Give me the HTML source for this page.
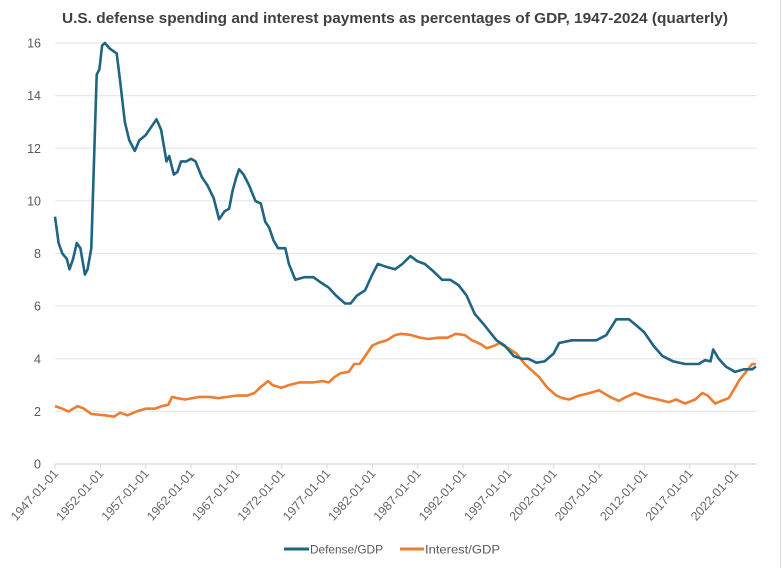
<!DOCTYPE html>
<html><head><meta charset="utf-8"><style>
html,body{margin:0;padding:0;background:#fff;}
svg{display:block;font-family:"Liberation Sans",sans-serif;}
</style></head><body>
<svg id="chart" width="782" height="568" viewBox="0 0 782 568">
<rect x="0" y="0" width="782" height="568" fill="#ffffff"/>
<line x1="780.5" y1="0" x2="780.5" y2="568" stroke="#d9d9d9" stroke-width="1"/>
<text x="395" y="23" text-anchor="middle" font-size="14.5" font-weight="bold" fill="#404040" textLength="666" lengthAdjust="spacingAndGlyphs">U.S. defense spending and interest payments as percentages of GDP, 1947-2024 (quarterly)</text>
<g id="grid"></g>
<g id="yticks"></g>
<g id="xaxis"></g>
<g id="series"></g>
<g>
<g>
<line x1="284" y1="549" x2="309" y2="549" stroke="#1f6483" stroke-width="3"/>
<text x="310" y="553.5" font-size="12" fill="#595959" textLength="73" lengthAdjust="spacingAndGlyphs">Defense/GDP</text>
</g>
<g>
<line x1="400" y1="549" x2="424" y2="549" stroke="#ed7d31" stroke-width="3"/>
<text x="425" y="553.5" font-size="12" fill="#595959" textLength="75" lengthAdjust="spacingAndGlyphs">Interest/GDP</text>
</g>
</g>
</svg>
<script>
const yTicks = [0,2,4,6,8,10,12,14,16];
const xTickYears = [1947,1952,1957,1962,1967,1972,1977,1982,1987,1992,1997,2002,2007,2012,2017,2022];
const defenseYears = [1947,1947.4,1947.8,1948.3,1948.6,1949.0,1949.4,1949.8,1950.3,1950.6,1951.0,1951.3,1951.6,1951.9,1952.2,1952.5,1953.0,1953.8,1954.2,1954.7,1955.2,1955.8,1956.3,1957.0,1957.6,1958.2,1958.7,1959.3,1959.6,1960.1,1960.5,1960.9,1961.5,1962.0,1962.5,1963.2,1963.8,1964.5,1965.1,1965.7,1966.2,1966.6,1967.0,1967.3,1967.8,1968.4,1969.1,1969.7,1970.2,1970.6,1971.1,1971.6,1972.4,1972.8,1973.5,1974.5,1975.5,1976.3,1977.2,1978.0,1979.0,1979.6,1980.3,1981.2,1982.0,1982.6,1983.5,1984.5,1985.3,1986.2,1987.0,1987.8,1988.8,1989.7,1990.6,1991.5,1992.4,1993.3,1994.3,1995.0,1995.7,1996.6,1997.6,1998.5,1999.2,2000.1,2001.0,2002.0,2002.6,2004.0,2005.5,2006.7,2007.8,2008.9,2010.3,2011.0,2012.0,2013.0,2014.0,2015.2,2016.5,2017.3,2018.0,2018.7,2019.3,2019.6,2020.2,2021.0,2022.0,2023.0,2023.9,2024.3];
const defenseValues = [9.4,8.4,8.0,7.8,7.4,7.8,8.4,8.2,7.2,7.4,8.2,11.5,14.8,15.0,15.9,16.0,15.8,15.6,14.5,13.0,12.3,11.9,12.3,12.5,12.8,13.1,12.7,11.5,11.7,11.0,11.1,11.5,11.5,11.6,11.5,10.9,10.6,10.1,9.3,9.6,9.7,10.4,10.9,11.2,11.0,10.6,10.0,9.9,9.2,9.0,8.5,8.2,8.2,7.6,7.0,7.1,7.1,6.9,6.7,6.4,6.1,6.1,6.4,6.6,7.2,7.6,7.5,7.4,7.6,7.9,7.7,7.6,7.3,7.0,7.0,6.8,6.4,5.7,5.3,5.0,4.7,4.5,4.1,4.0,4.0,3.85,3.9,4.2,4.6,4.7,4.7,4.7,4.9,5.5,5.5,5.3,5.0,4.5,4.1,3.9,3.8,3.8,3.8,3.95,3.9,4.35,4.0,3.7,3.5,3.6,3.6,3.7];
const interestYears = [1947,1947.8,1948.5,1949.5,1950.2,1951.0,1952.5,1953.5,1954.2,1955.0,1956.0,1957.0,1958.0,1958.8,1959.5,1959.9,1960.5,1961.3,1963.0,1964.0,1965.0,1966.0,1967.0,1968.2,1969.0,1969.6,1970.5,1971.0,1972.0,1972.8,1974.0,1975.5,1976.5,1977.2,1977.8,1978.5,1979.4,1980.0,1980.6,1981.2,1982.0,1982.6,1983.6,1984.5,1985.2,1986.3,1987.3,1988.2,1989.3,1990.3,1991.2,1992.2,1993.0,1994.0,1994.6,1995.5,1996.0,1997.0,1997.9,1998.8,1999.6,2000.4,2001.3,2002.3,2003.0,2003.7,2004.8,2006.0,2007.0,2008.2,2009.2,2010.0,2011.0,2012.2,2013.5,2014.7,2015.5,2016.5,2017.6,2018.4,2019.0,2019.8,2020.5,2021.3,2022.0,2022.5,2023.2,2023.9,2024.3];
const interestValues = [2.2,2.1,2.0,2.2,2.1,1.9,1.85,1.8,1.95,1.85,2.0,2.1,2.1,2.2,2.25,2.55,2.5,2.45,2.55,2.55,2.5,2.55,2.6,2.6,2.7,2.9,3.15,3.0,2.9,3.0,3.1,3.1,3.15,3.1,3.3,3.45,3.5,3.8,3.8,4.1,4.5,4.6,4.7,4.9,4.95,4.9,4.8,4.75,4.8,4.8,4.95,4.9,4.7,4.55,4.4,4.5,4.6,4.4,4.2,3.8,3.55,3.3,2.9,2.6,2.5,2.45,2.6,2.7,2.8,2.55,2.4,2.55,2.7,2.55,2.45,2.35,2.45,2.3,2.45,2.7,2.6,2.3,2.4,2.5,2.9,3.2,3.5,3.8,3.8];

const NS='http://www.w3.org/2000/svg';
const X0=55, PXYR=(735-55)/75, Y0=464, PXU=(464-43)/16, XEND=757;
function xs(yr){return X0+(yr-1947)*PXYR;}
function ys(v){return Y0-v*PXU;}
const grid=document.getElementById('grid'), yt=document.getElementById('yticks'), xa=document.getElementById('xaxis'), se=document.getElementById('series');
yTicks.forEach(v=>{
  if(v>0){
    const l=document.createElementNS(NS,'line');
    
    
    l.setAttribute('x1',X0);l.setAttribute('x2',XEND);l.setAttribute('y1',ys(v));l.setAttribute('y2',ys(v));
    l.setAttribute('stroke','#e8e8e8');l.setAttribute('stroke-width','1.3');
    grid.appendChild(l);
  }
  const t=document.createElementNS(NS,'text');
  
  
  t.setAttribute('x',41);t.setAttribute('y',ys(v)+4.5);t.setAttribute('text-anchor','end');
  t.setAttribute('font-size','12.5');t.setAttribute('fill','#595959');t.textContent=v;
  yt.appendChild(t);
});
const ax=document.createElementNS(NS,'line');


ax.setAttribute('x1',X0);ax.setAttribute('x2',XEND);ax.setAttribute('y1',Y0);ax.setAttribute('y2',Y0);
ax.setAttribute('stroke','#d9d9d9');ax.setAttribute('stroke-width','1.3');
xa.appendChild(ax);
xTickYears.forEach(yr=>{
  const x=xs(yr);
  const tk=document.createElementNS(NS,'line');
  
  
  tk.setAttribute('x1',x);tk.setAttribute('x2',x);tk.setAttribute('y1',Y0);tk.setAttribute('y2',Y0+5);
  tk.setAttribute('stroke','#d9d9d9');xa.appendChild(tk);
  const t=document.createElementNS(NS,'text');
  
  
  t.setAttribute('x',x+4);t.setAttribute('y',Y0+10);t.setAttribute('text-anchor','end');
  t.setAttribute('font-size','12.5');t.setAttribute('fill','#666666');
  t.setAttribute('transform','rotate(-48 '+(x+4)+' '+(Y0+10)+')');
  t.textContent=yr+'-01-01';xa.appendChild(t);
});
function draw(yrs,vals,color,name){
  const p=document.createElementNS(NS,'polyline');
  
  
  p.setAttribute('points',yrs.map((y,i)=>xs(y).toFixed(1)+','+ys(vals[i]).toFixed(1)).join(' '));
  p.setAttribute('fill','none');p.setAttribute('stroke',color);p.setAttribute('stroke-width','2.6');
  p.setAttribute('stroke-linejoin','round');
  se.appendChild(p);
}
draw(interestYears,interestValues,'#ed7d31','interest-gdp-line');
draw(defenseYears,defenseValues,'#1f6483','defense-gdp-line');
</script>
</body></html>
